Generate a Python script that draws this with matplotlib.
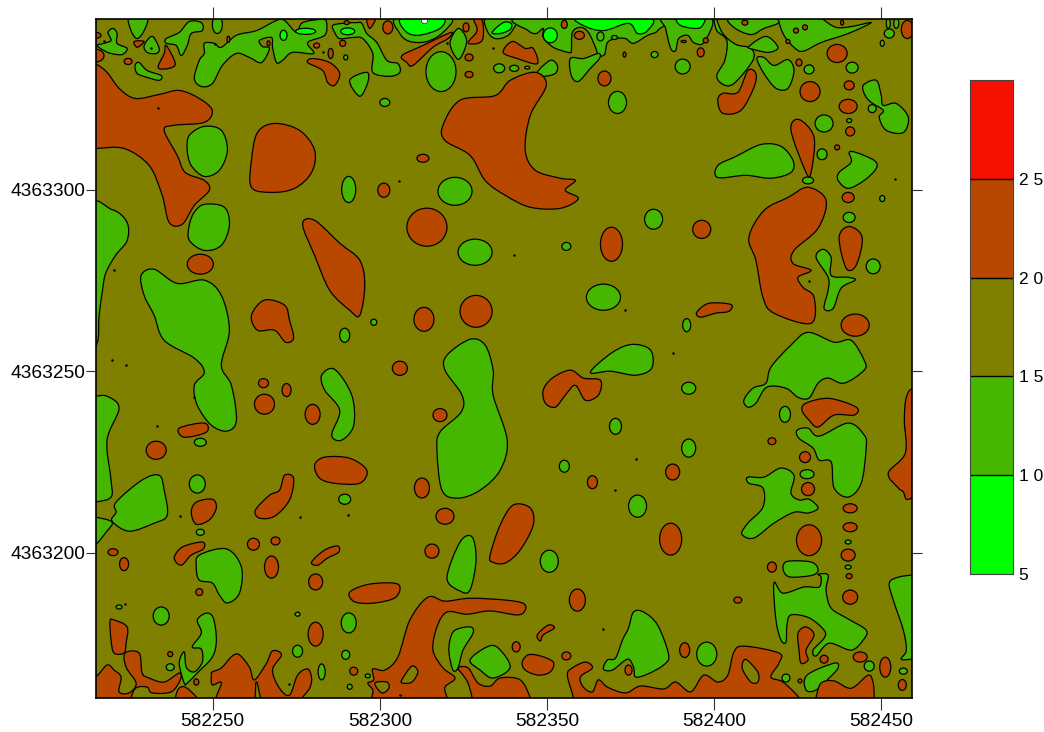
import matplotlib
matplotlib.use("Agg")
import numpy as np
import matplotlib.pyplot as plt
from matplotlib.path import Path
from matplotlib.patches import PathPatch, Ellipse, Rectangle

plt.rcParams["font.family"] = ["Liberation Sans", "DejaVu Sans"]

# All outlines are (east - 582000, north - 4363000) in metres
EAST0 = 582000
NORTH0 = 4363000
XTICKS = [582250, 582300, 582350, 582400, 582450]
YTICKS = [4363200, 4363250, 4363300]

BAR_EDGES = [5, 10, 15, 20, 25, 30]
BAR_LABELS = ["5", "1 0", "1 5", "2 0", "2 5"]
C_LIME = "#00FF00"
C_GREEN = "#45B700"
C_OLIVE = "#808000"
C_BROWN = "#B84800"
C_RED = "#F61000"
BAR_COLORS = [C_LIME, C_GREEN, C_OLIVE, C_BROWN, C_RED]

# ── zones 10-15 ──
green_zones = [
    [(320.1,254.4),(327,258.8),(331.5,257.2),(333.9,250.3),(333.9,243.4),(338.1,231),(336,222.7),(330,217.2),(323.4,215),(318.6,217.2),(317.1,228.2),(318,233.2),(324.3,238.7),(324.6,243.4),(319.5,250.3)],
    [(228.6,276.4),(232.5,278.1),(239.4,274.2),(247.5,275.1),(252.6,270.9),(255,261.3),(252.6,251.6),(255.6,246.1),(257.1,236.5),(254.4,233.5),(249.6,235.1),(245.4,240.6),(244.5,246.1),(247.5,249.7),(244.5,253.6),(235.5,258.5),(232.5,265.4),(229.5,270.9)],
    [(243,315),(247.5,317.5),(252.6,316.4),(254.4,310.9),(252,305.4),(247.5,303.7),(243.6,306.7),(242.4,310.9)],
    [(244.5,293.8),(247.5,296),(253.5,295.2),(255,290.2),(252.6,284.7),(247.5,283.3),(243,286.1),(243,290.2)],
    [(212,294),(220,294.5),(224.4,291),(224.4,286),(221,282),(218,277),(217,272),(216,265),(215.5,258),(212,255)],
    [(214.8,243.1),(218.4,243.1),(222,239.8),(218.4,231),(219.6,220),(219.6,215.3),(214.8,213.9),(212,213.9),(212,243)],
    [(214.8,209.8),(219.9,208.4),(218.1,205.6),(214.8,202),(212,201),(212,210)],
    [(221.1,213.9),(228.9,220),(234,221.3),(235.5,217.2),(236.4,210.3),(232.5,208.1),(225,205.9),(219.9,208.7),(221.1,211.1)],
    [(245.1,196),(246,199.3),(254.1,201),(258.6,196),(258,188.8),(254.4,186.1),(252,188.3),(249.9,191.6),(246,192.4)],
    [(282.6,248.9),(286.5,250.5),(291.6,243.4),(292.2,235.1),(288.6,231),(285.6,232.4),(288,239.2),(283.5,244.8)],
    [(363,249.7),(369.6,255.2),(375.6,257.4),(381,255.8),(381.3,250.8),(376.5,248.9),(369,250)],
    [(320.1,193),(324,202.9),(327.6,204.3),(328.8,198),(327,189.7),(324,189.4)],
    [(408.9,242),(411.6,245.3),(415.5,246.7),(417,251.1),(423,257.2),(428.1,260.7),(435.9,258),(441,258.5),(444.9,253),(444.9,250.3),(438.9,246.7),(434.1,248.1),(431.1,246.7),(428.4,242.6),(425.1,242.8),(421.5,245.3),(415.8,245.6),(412.5,241.2),(410.1,240.1)],
    [(424.8,233.7),(428.1,234.3),(431.4,232.1),(440.1,235.7),(444.9,232.4),(445.5,229),(444,219.1),(440.1,215.3),(435.9,217.8),(435,225),(431.4,225.5),(429.6,228.8),(425.4,231.5)],
    [(410.1,220.8),(414.9,220.8),(420,223.3),(423.9,221.3),(423,216.4),(425.4,214.5),(428.4,214.7),(431.1,212.3),(428.1,210.9),(423.9,211.1),(417.9,208.1),(411.9,204),(408.3,205.1),(410.1,208.1),(414.6,212.5),(414.6,217.8),(410.4,219.1)],
    [(420.6,196),(422.1,197.6),(429,197.4),(431.1,195.4),(429.6,193.8),(423.9,193.2),(421.5,193.8)],
    [(417.9,191.6),(420.6,188.8),(426.9,190.5),(431.4,190.5),(432,193.2),(431.1,194),(434.1,193.8),(433.5,189.7),(435,184.7),(440.1,181.7),(445.5,178.6),(444.6,175.9),(441,173.1),(434.4,175),(430.5,171.5),(429.6,173.1),(432.9,176.4),(432.9,178.6),(428.4,182),(423,182.8),(421.8,180),(421.5,175.3),(420,175.9),(418.5,181.4)],
    [(452.4,191.6),(455.1,193.2),(459.6,193.8),(465,193.8),(465,170.6),(459.6,170.6),(456,170.6),(457.5,173.1),(456.6,178.6),(453.6,186.9)],
    [(375.9,183.6),(378.9,183.6),(383.1,180),(386.4,171.8),(384.9,169),(380.1,166.5),(376.5,165.7),(375.9,168.4),(374.1,170.6),(369.6,167.6),(366.9,167.9),(368.1,170.4),(370.5,170.9),(372.6,175.9),(374.4,179.2)],
    [(427.8,166.2),(435.9,169.5),(437.1,168.2),(434.4,165.4),(430.5,162.1),(427.5,162.1)],
    [(245.4,181.4),(248.1,183.3),(250.2,181.9),(251.1,175.9),(249.9,171.2),(245.4,166.8),(242.4,164),(241.5,164),(240,169.5),(241.5,172.6),(242.1,168.4),(244.5,167.1),(246.9,169.8),(246.6,173.4),(243.9,174),(246.6,177.8)],
    [(321,175.9),(322.5,178.6),(327,179.5),(327.9,177.8),(324.9,173.1),(323.4,168.2),(321.9,167.6),(320.7,172.3)],
    [(327,170.4),(332.1,174),(335.4,173.7),(339,168.4),(333.9,165.4),(330,167.6)],
    # top strip
    [(225,347.5),(230.4,347.5),(229.5,343.9),(227.4,341.7),(225.6,343.9)],
    [(215.4,339.8),(217.5,340.4),(219.6,341.2),(218.7,343.4),(220.2,344.5),(221.4,343.1),(221.4,340.4),(224.4,339),(222.9,337.3),(219.6,337.6),(217.5,338.4)],
    [(226.8,334.3),(228,335.1),(230.4,332.9),(234.6,331.5),(234,330.2),(230.4,331),(227.4,332.1)],
    [(229.5,339.8),(231.9,342.3),(234,339),(233.1,337.6),(230.4,337.9)],
    [(236.1,341.7),(240,343.4),(243,346.4),(246.6,346.1),(246.9,343.9),(243.6,343.1),(242.4,339.8),(240.6,337),(239.1,339.8),(236.1,340.4)],
    [(244.5,330.7),(246,335.7),(247.5,337.6),(247.5,340.4),(250.5,340.4),(252.6,339.3),(257.1,342.6),(263.1,343.9),(269.1,346.7),(271.5,346.7),(275.1,343.4),(276.9,346.1),(282.9,347),(284.1,345.9),(283.5,342.6),(278.4,340.6),(280.2,337.6),(273.9,337.9),(270.9,335.7),(269.1,335.1),(267.9,339.3),(267.6,342),(264,341.2),(264.9,339.5),(267,339),(264.6,335.1),(261,336.5),(257.1,337.6),(252.9,334.3),(249.9,329.3),(246.6,328.5)],
    [(285.9,345.3),(288.9,345.9),(293.1,346.1),(294.6,345.9),(296.1,343.1),(299.1,340.6),(302.1,335.7),(305.4,334.8),(306,332.4),(303,331.3),(297.9,332.4),(297.9,337.6),(294.9,341.7),(291.9,342),(288,341.7),(286.5,343.4)],
    [(291,330.2),(296.1,332.4),(296.4,329.6),(294,325.8)],
    [(305.1,347.5),(306,343.1),(309,340.9),(314.1,340.9),(318.9,343.4),(321,347.5)],
    [(321,340.4),(323.4,344.5),(325.8,342),(325.5,339),(323.4,336)],
    [(332.1,347.5),(332.1,343.9),(334.5,341.7),(338.4,342.6),(341.1,346.1),(342,347.5)],
    [(342,347.5),(344.4,343.9),(346.8,343.1),(348.9,344.5),(348.9,342),(351.9,339.3),(356.4,337.9),(357.3,338.4),(357.6,343.4),(360,344.8),(362.4,343.4),(364.5,339.3),(365.4,337.1),(367.2,337.3),(368.1,340.6),(370.5,341.7),(373.5,341.7),(375.9,340.4),(380.1,342.6),(383.1,343.9),(382.8,347.5)],
    [(384.9,347.5),(385.5,344.5),(387,339),(388.5,338.4),(389.4,341.7),(392.1,342.6),(393.9,340.6),(396.9,340.6),(399,347.5)],
    [(357,336.2),(360.9,336.2),(365.4,337.6),(365.7,336.2),(363,333.5),(359.4,329.9),(357.3,331.5)],
    [(347.1,332.4),(351,335.7),(353.1,334.3),(352.5,332.1),(348.9,331.3)],
    [(405,347.5),(405.9,344.8),(411,342.8),(414.9,344.5),(419.1,345.9),(419.4,347.5)],
    [(419.4,346.4),(420.9,342.6),(423.9,339.3),(426.6,338.2),(432,340.6),(440.1,343.1),(447,346.1),(441,345),(436.5,344.8),(432.6,347),(432.6,347.5),(420,347.5)],
    [(399.9,347.5),(400.8,343.9),(403.8,341.2),(403.2,335.7),(400.8,331.5),(402.6,329.1),(405.9,329.3),(411.6,335.7),(411,339),(406.5,340.1),(402.6,343.1),(400.5,347.5)],
    [(410.4,339.5),(415.5,342.3),(419.1,339.3),(416.4,337.9),(411.9,338.7)],
    [(412.8,336.2),(414.9,336.5),(417.9,334.3),(422.1,335.9),(423.9,332.9),(422.1,328),(418.5,328),(414.9,332.1)],
    [(444.6,328.8),(448.5,330.2),(450,326),(450.6,323.3),(454.5,323.8),(458.1,320),(456.6,315.8),(451.5,316.4),(449.4,320),(450.6,321.9),(447,324.1),(445.2,326)],
    [(401.1,306.7),(406.5,309.2),(414,312.5),(420,312),(423.6,308.1),(423,304.8),(417,303.2),(409.5,304),(401.1,303.4)],
    [(440.4,310.3),(442.5,310.3),(447.9,308.1),(448.5,305.9),(444.9,302.6),(440.1,300.4),(437.1,302.6),(437.4,304.8),(441,307.6)],
    [(430.5,281.4),(432.6,283.6),(435,281.4),(435,276.4),(440.1,275.9),(442.2,275.1),(438,272.9),(435.6,267.3),(432.9,267.3),(434.1,272.3),(434.1,275.9)],
]

green_spots = [
    (290.7,300.1,4.2,7.2),(322.5,299.6,10.2,7.7),(328.5,282.8,10.2,7.2),(366.9,270.4,10.2,7.2),(371.1,324.1,5.4,6.1),
    (318.3,332.6,9,11),(381.9,291.9,5.4,5.5),(301.5,324.1,3,2.2),(355.8,284.4,2.7,2.2),(391.8,262.7,2.4,3.6),
    (392.4,245.3,4.2,3.3),(392.4,228.8,4.2,5),(355.2,223.8,3,3.3),(370.5,234.8,3.6,4.4),(289.5,259.9,3,3.9),
    (298.2,263.5,1.8,1.7),(246.3,230.4,3.6,2.2),(245.4,218.9,4.8,5),(289.5,214.7,3.6,2.8),(246.3,205.6,2.4,1.7),
    (350.7,197.6,5.4,6.1),(234.6,182.5,4.8,5),(290.7,180.6,4.5,5.5),(275.4,172.8,3,3.3),(289.8,171.8,2.4,2.5),
    (237.3,168.4,2.4,1.9),(275.4,183,1.5,1.1),(296.4,166,1.5,1.1),(291,163,1.5,1.4),(222,185,1.8,1.1),
    (421.5,165.4,2.4,2.2),(432.9,318.3,5.4,4.7),(432.3,309.8,3,3),(428.1,302.6,3.3,1.9),(440.4,292.4,3.6,2.8),
    (447.6,278.9,4.2,4.1),(450.3,297.6,1.5,1.7),(440.4,319.1,1.5,1.1),(447.3,322.4,2.4,2.2),(421.2,238.1,3.3,4.4),
    (427.8,221.6,4.2,2.5),(440.1,202.9,1.8,1.1),(440.1,196,1.8,1.1),(390.6,334,4.5,4.1),(428.4,333.2,3,2.5),
    (441.3,333.7,3.6,3),(382.2,337.3,2.1,1.7),(340.2,333.5,2.7,1.7),(344.1,333.7,1.5,0.8),(335.7,333.5,3.3,2.5),
    (289.8,336.5,1.2,1.4),(397.8,172,6,6.6),(282.6,167.1,2.1,4.4),(452.4,343.1,3,2.5),(450.3,340.4,1.2,1.7),
    (454.5,345.9,1.5,2.8),(452.1,345.9,1.2,2.8),(366,342.3,2.1,2.5),(370.2,342,1.8,1.1),(251.4,345.6,3,5),
    (456.6,167.3,2.4,1.7),(446.4,168.7,3,2.8),(377.1,212.8,5.4,6.1),
]

# ── zones 5-10 ──
lime_zones = [
    [(306.6,347.5),(307.5,343.9),(311.4,342.6),(318,344.5),(318.6,347.5)],
    [(333.6,343.4),(336.9,346.1),(339.3,345.9),(339,344.2),(336,343.1)],
    [(359.7,347.5),(360.9,345.3),(366.9,343.9),(374.4,345.9),(377.1,343.1),(380.1,343.9),(380.4,347.5)],
    [(389.1,347.5),(390,345.3),(395.1,344.5),(396.9,345.9),(396.6,347.5)],
]
lime_spots = [(277.8,343.7,6,1.7),(271.2,342.6,2.1,2.8),(290.4,343.7,4.2,1.9),(351,342.6,4.2,4.1)]

# ── zones 20-25 ──
brown_zones = [
    [(210,311.4),(214.8,311.4),(223.5,311.4),(231,306.7),(234.9,298.5),(237,291),(240.9,290.5),(244.5,295.7),(249,299.9),(247.5,302.6),(241.8,304.8),(239.4,309.5),(235.5,316.4),(238.5,317.8),(247.5,318.6),(249.9,321.9),(246,325.2),(240,327.4),(234,326.3),(226.8,325.2),(222,328),(218.4,332.4),(214.8,334.8),(210,336)],
    [(261.6,308.1),(263.4,315.8),(268.5,318.3),(276,316.4),(280.5,310.9),(279.6,304.8),(274.5,300.4),(267.6,299.3),(261.6,300.7)],
    [(276.9,290.5),(280.5,291.6),(288,285.3),(294,280.6),(295.5,273.7),(294,265.4),(291,266.8),(285,272.3),(280.5,281.9)],
    [(318.9,317.8),(324,324.7),(334.5,326),(339,330.2),(346.5,332.4),(349.8,328.8),(345,320.5),(343.5,310.9),(346.5,305.4),(354,303.2),(358.5,302.6),(355.5,299.9),(359.4,297.6),(354,294.9),(345,295.2),(337.5,298.5),(331.5,302.6),(327,309.5),(319.5,313.6)],
    [(428.1,300.7),(433.5,297.1),(431.1,289.4),(423.9,283.3),(423.6,279.7),(429,277.8),(425.1,275.9),(426.6,273.1),(429.9,270.4),(429,263.2),(417.9,266),(414.6,270.4),(412.5,280.6),(410.4,286.9),(414.9,294.3),(422.1,297.9)],
    [(425.4,319.4),(429.9,314.5),(429,304.8),(427.5,304.8),(423,316.4)],
    [(440.4,289.9),(444.3,286.9),(442.5,279.2),(439.5,278.4),(437.4,286.9)],
    [(401.1,324.7),(402.6,326.6),(407.1,326.9),(410.1,332.9),(412.5,332.1),(411.9,328.2),(408,321.9),(402.6,321.1)],
    [(306.6,337),(312.9,339.8),(321.3,343.4),(320.4,341.7),(315.9,339.3),(309.9,334.3),(308.1,335.1)],
    [(336.9,337.9),(339.6,340.9),(343.5,339),(345.9,339),(347.1,334.8),(341.1,336.2)],
    [(278.4,335.1),(279.9,336.2),(285,335.1),(288,332.1),(286.5,328.8),(284.4,329.6),(282.9,332.9)],
    [(236.1,339.8),(238.8,334.9),(237,333.5),(233.7,333.7),(235.5,337.6)],
    [(327.9,347.5),(330.6,346.7),(330.9,342),(329.4,340.4),(326.4,340.6),(329.1,343.9)],
    [(296.1,347.5),(298.8,347.5),(297,344.5)],
    [(226.5,340.9),(229.5,340.9),(227.4,339.3)],
    [(261.6,265.4),(265.5,269.6),(271.5,268.2),(273,264),(274.2,259.1),(271.8,258),(268.5,261.3),(263.4,261.3)],
    [(280.5,224.1),(283.5,226.3),(291,226),(296.1,222.7),(294,219.1),(286.5,219.1),(282,220.5)],
    [(262.8,211.7),(267,215.8),(270,217.2),(271.5,221.3),(274.2,220.5),(273,214.5),(268.5,210),(264,209.5)],
    [(243.6,211.1),(245.1,213.9),(249.9,214.7),(251.1,212.3),(249,209),(245.1,207.8)],
    [(238.5,198.5),(240.9,201.5),(246.9,202.9),(247.2,201),(243.6,199.3),(240.6,196.5)],
    [(333,199.3),(336,207.6),(339.9,213.1),(345,212.3),(345.9,207.6),(342,200.7),(337.5,197.1),(333.6,197.4)],
    [(279.6,197.4),(283.5,200.7),(287.4,201.8),(287.7,200.1),(284.4,198.5),(281.4,196.5)],
    [(291,189.1),(297,191.3),(305.4,191.3),(304.8,187.7),(298.5,186.1),(292.5,186.4)],
    [(348.9,244.8),(351.6,248.1),(357,250.3),(360.9,248.1),(366,247.5),(365.4,243.4),(361.5,242),(358.5,246.1),(355.5,243.4),(352.5,240.1),(349.5,241.2)],
    [(394.8,266.2),(398.4,268.7),(405,268.4),(404.4,266.5),(400.5,266),(396,264.9)],
    [(426.3,239.2),(427.5,241.2),(434.4,242.5),(442.5,240.1),(441.9,237.9),(435.9,237.9),(431.1,234.6),(428.4,236.5)],
    [(459.6,245.3),(457.5,242.8),(456.9,236.5),(457.2,227.4),(452.1,221.9),(455.1,217.8),(456.6,216.7),(457.5,214.7),(459.6,215),(465,215),(465,245)],
    [(240,234.3),(247.5,235.7),(248.1,233.2),(241.5,231.8)],
    [(347.1,177.3),(350.4,180),(352.2,179.2),(348.9,177.3),(348,175.6)],
    [(342.6,169.8),(344.4,171.8),(348,171.5),(351.9,169.8),(351,167.1),(347.4,166.2),(343.5,167.6)],
    # bottom edge
    [(214.8,165.7),(218.4,169),(220.5,167.6),(222.6,165.7),(222,161.6),(225,161.3),(227.1,164),(224.1,168.4),(223.8,172.3),(228,172.3),(228.9,166.8),(231,165.4),(235.5,164.3),(240,166.8),(240.3,164.9),(237.6,161.6),(231.9,161.3),(230.4,162.9),(227.1,162.7),(225.6,160),(225.6,158),(210,158),(210,166)],
    [(219.3,181.1),(220.5,181.4),(224.4,179.5),(224.1,175),(223.5,172.3),(220.5,172.3),(219.6,175.9)],
    [(239.4,161.8),(241.5,163),(245.1,160.2),(246,158),(239.4,158)],
    [(249.6,166.2),(249.9,167.1),(252.6,168.2),(255.9,171.5),(258,171.8),(261,168.4),(262.5,164.9),(266.1,169.5),(267.9,172.9),(270.6,171.8),(267.9,167.6),(270,162.6),(273,160.7),(275.4,166.2),(278.4,167.9),(279.6,165.4),(279,162.6),(276.9,160),(276.9,158.5),(265.8,158.5),(263.1,164.3),(261.6,158.5),(251.4,158.5),(252.6,164.1),(249.9,163.5)],
    [(314.4,187.7),(319.5,186.6),(327,187.4),(337.5,186.9),(342.9,186),(343.5,184.1),(341.1,182.8),(333,183.9),(326.1,183),(320.1,183.6),(317.1,179.5),(315.9,173.1),(318.9,168.2),(322.5,165.4),(319.5,162.9),(320.1,160),(320.1,158.5),(297.6,158.5),(297.6,160),(297.9,162.1),(296.4,164),(298.2,164.9),(297.9,167.9),(301.5,167.6),(305.4,171.2),(309,181.4)],
    [(323.4,168.2),(326.4,168.2),(329.4,164),(333,163.2),(336,165.4),(342,164.9),(345,160),(345,158),(327.6,158),(327.6,160),(326.4,164),(324.9,166.2)],
    [(357.9,160),(356.1,166.2),(357.6,168.2),(361.5,169.8),(363.6,168.2),(360,165.7),(360.9,162.9),(363.6,161.6),(365.4,164.9),(368.1,162.9),(373.5,161.3),(378,163.2),(384.9,162.4),(388.5,164.3),(393,161.6),(396.9,166.2),(401.1,164.3),(404.1,166.2),(405.9,172.5),(408.9,174.2),(419.4,172.3),(419.4,169.5),(417,165.7),(420.6,164.3),(425.4,160),(425.4,158),(357.9,158)],
    [(430.5,160),(432,164),(435.9,164.6),(441,162.6),(446.1,166.2),(447.6,164),(447.9,160),(447.9,158),(430.5,158)],
    [(425.1,177.8),(427.5,179.5),(429.9,177.3),(427.5,173.1),(428.1,170.4),(426,169.5),(425.4,173.1)],
]

brown_spots = [
    (246.3,279.5,7.8,5.5),(301.2,299.9,3.6,3.9),(312.9,308.7,3.6,2.2),(314.1,289.7,12,10.5),(313.2,264.3,6,6.6),
    (328.8,266.5,9.6,8.8),(369.3,285,6.6,9.4),(396.3,289.1,5.4,5),(306,250.8,4.5,3.9),(265.2,246.7,3,2.5),
    (272.1,244.8,2.7,3.6),(265.5,240.9,6,5.5),(279.9,238.1,4.5,5.5),(318,237.9,4.2,3.6),(233.1,228.2,6,5),
    (312.6,217.8,4.5,5.5),(319.5,210,5.4,4.4),(315.6,200.4,4.2,3.9),(387.6,222.2,4.2,4.4),(363.6,219.4,3,3.6),
    (387,203.7,6.6,8.8),(220.2,200.1,3,1.9),(223.5,196.8,2.7,3.6),(246,189.1,2.1,1.9),(262.2,202.3,3.6,3.3),
    (268.8,203.2,2.7,2.2),(267.6,196,4.2,6.1),(280.8,191.9,4.2,4.4),(359.1,186.9,4.8,6.1),(280.8,177.5,4.5,6.6),
    (237.3,172,1.5,1.4),(292.2,167.3,2.4,2.2),(245.1,164.3,1.5,1.7),(340.8,174,2.4,2.8),(355.8,171.5,2.7,2.2),
    (391.2,173.1,3,4.1),(451.2,168.4,3.3,5.5),(456.3,163.5,2.4,3),(443.7,171.2,4.2,2.8),(425.7,164.6,1.2,1.1),
    (432.9,170.6,2.4,2.2),(374.4,167.6,2.1,2.8),(417.3,230.7,2.4,1.9),(427.2,226.3,3.3,3),(428.1,217.5,3.9,3.6),
    (440.7,212.2,4.2,2.5),(440.7,207,4.2,2.5),(440.1,199.3,4.2,3.3),(440.4,193.5,1.8,1.4),(440.7,187.7,4.5,3.9),
    (417.3,196,2.7,2.8),(407.1,186.9,2.4,1.7),(428.4,203.4,7.5,8.5),(440.1,323,5.4,3.9),(440.7,316.1,2.7,2.5),
    (436.8,311.7,1.5,1.4),(440.1,297.9,3.6,2.8),(442.2,262.7,8.4,6.1),(367.2,330.7,3.9,4.1),(428.7,327.1,6,5.5),
    (436.8,337.6,6,5),(440.4,328.8,3,2.5),(425.4,335.1,1.8,1.9),(396,337.9,2.1,2.5),(373.2,337.3,0.9,1.4),
    (359.7,342.6,3,2.2),(355.2,345.6,1.8,2.2),(397.5,341.2,1.5,1.4),(390.9,340.9,1.5,0.6),(409.2,346.1,1.8,1.4),
    (424.5,343.9,1.5,1.4),(427.2,344.8,1.5,1.4),(422.1,340.9,1.2,1.1),(438.3,346.1,0.9,1.4),(457.8,344.2,3.6,5),
    (326.7,336.5,2.4,1.9),(326.7,331.8,2.4,1.7),(325.8,344.8,1.8,2.5),(302.4,344.8,3,3.6),(285.3,337.6,1.5,2.8),
    (281.1,339.8,1.8,1.4),(288.9,340.4,1.8,1.7),(266.7,340.4,0.9,1.4),(254.7,341.5,0.9,1.7),(224.7,335.4,2.4,1.7),
    (290.1,346.1,1.5,1.1),(214.8,342.6,3.6,1.7),(214.8,337,5.4,3.6),
]

# ── islands of 15-20 inside the brown ──
olive_holes = [
    [(309.6,168.7),(311.4,167.1),(309.6,164.3),(306.9,164),(306.6,164.9)],
    [(298.5,164),(302.1,164.3),(302.7,162.6),(300.6,161.3)],
    [(408.6,169.8),(409.8,170.4),(413.1,167),(413.1,164.3),(411,164.3),(408.6,167.6)],
]

# tiny closed contours, too small to read a shape from
pit_east = [233.7,250.8,231.6,217.5,282.9,333.9,320.1,305.7,219.9,224.1,244.5,233.4,290.4,276,240.3,370.5,376.5,373.2,387.6,340.2,220.5,428.4,454.2,272.7,306,366.9,223.8]
pit_north = [322.7,340.1,339,340.9,337.9,339,340.6,302.3,253,251.6,242.8,234.8,210.3,209.8,210,217.2,225.7,266.8,254.9,282,277.8,274.8,302.9,163.8,160.7,179,185.8]

# peak value, shown white at the top edge
peak_east = [313.2]
peak_north = [346.7]


def smooth_closed(points):
    # closed Catmull-Rom turned into cubic beziers
    pts = np.array(points, dtype=float)
    pts[:, 0] += EAST0
    pts[:, 1] += NORTH0
    n = len(pts)
    verts = [pts[0]]
    codes = [Path.MOVETO]
    for i in range(n):
        p0, p1, p2, p3 = pts[i - 1], pts[i], pts[(i + 1) % n], pts[(i + 2) % n]
        verts += [p1 + (p2 - p0) / 6, p2 - (p3 - p1) / 6, p2]
        codes += [Path.CURVE4] * 3
    return Path(verts, codes)


def draw_zones(ax, zones, colour, z):
    for zone in zones:
        ax.add_patch(PathPatch(smooth_closed(zone), fc=colour, ec="black", lw=0.9, zorder=z))


def draw_spots(ax, spots, colour, z):
    for e, n, w, h in spots:
        ax.add_patch(Ellipse((EAST0 + e, NORTH0 + n), w, h, fc=colour, ec="black", lw=0.9, zorder=z))


fig = plt.figure(figsize=(10.44, 7.32), dpi=100)
ax = fig.add_axes([96 / 1044, 34 / 732, 816 / 1044, 679 / 732])
ax.set_facecolor(C_OLIVE)

draw_zones(ax, green_zones, C_GREEN, 2)
draw_spots(ax, green_spots, C_GREEN, 2)
draw_zones(ax, lime_zones, C_LIME, 3)
draw_spots(ax, lime_spots, C_LIME, 3)
draw_zones(ax, brown_zones, C_BROWN, 4)
draw_spots(ax, brown_spots, C_BROWN, 5)
draw_zones(ax, olive_holes, C_OLIVE, 5)

ax.plot(np.array(pit_east) + EAST0, np.array(pit_north) + NORTH0, "o", color="black", ms=1.8, mew=0, zorder=6)
ax.plot(np.array(peak_east) + EAST0, np.array(peak_north) + NORTH0, "o", mfc="white", mec="black", ms=4.5, mew=0.4, zorder=6)

ax.set_xlim(582215.1, 582459.2)
ax.set_ylim(4363159.9, 4363347.1)
ax.set_xticks(XTICKS)
ax.set_yticks(YTICKS)
ax.set_xticklabels([str(v) for v in XTICKS], fontsize=13.8)
ax.set_yticklabels([str(v) for v in YTICKS], fontsize=13.8)
ax.tick_params(axis="x", direction="out", length=8.5, width=0.8, pad=2, top=True, color="#333333")
ax.tick_params(axis="y", direction="out", length=7, width=0.8, pad=1, right=True, color="#333333")
for side in ax.spines.values():
    side.set_linewidth(1.2)
    side.set_zorder(10)

# ── colour scale ──
cax = fig.add_axes([970 / 1044, (732 - 574) / 732, 43 / 1044, 494 / 732])
for low, high, colour in zip(BAR_EDGES[:-1], BAR_EDGES[1:], BAR_COLORS):
    cax.add_patch(Rectangle((0, low), 1, high - low, fc=colour, ec="none"))
    if low > BAR_EDGES[0]:
        cax.plot([0, 1], [low, low], color="black", lw=1.0)
cax.set_xlim(0, 1)
cax.set_ylim(BAR_EDGES[0], BAR_EDGES[-1])
cax.set_xticks([])
cax.yaxis.tick_right()
cax.set_yticks(BAR_EDGES[:-1])
cax.set_yticklabels(BAR_LABELS, fontsize=12.5)
cax.tick_params(axis="y", length=0, pad=4)
for side in cax.spines.values():
    side.set_linewidth(0.8)
    side.set_color("#444444")

plt.savefig("out.png", dpi=100)
